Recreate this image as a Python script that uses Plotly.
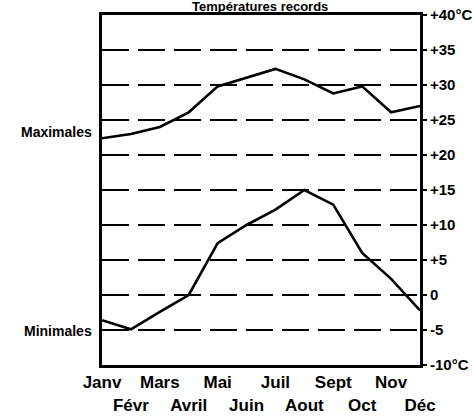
import plotly.graph_objects as go

months = ["Janv", "Févr", "Mars", "Avril", "Mai", "Juin",
          "Juil", "Aout", "Sept", "Oct", "Nov", "Déc"]
maximales = [22.4, 23.0, 24.0, 26.1, 29.8, 31.0, 32.3, 30.8, 28.8, 29.8, 26.1, 27.0]
minimales = [-3.6, -4.9, -2.4, 0.0, 7.4, 10.0, 12.2, 15.0, 12.9, 6.0, 2.3, -2.2]
ytick_vals = [40, 35, 30, 25, 20, 15, 10, 5, 0, -5, -10]
ytick_text = ["+40°C", "+35", "+30", "+25", "+20", "+15", "+10", "+5", "0", "-5", "-10°C"]
title_text = "Températures records"
series_labels = ["Maximales", "Minimales"]
label_levels = [23.3, -5.2]

x_idx = list(range(len(months)))
xtick_text = [m if i % 2 == 0 else "<br>" + m for i, m in enumerate(months)]

FONT = "Liberation Sans, Arial, sans-serif"

fig = go.Figure()
for vals in (maximales, minimales):
    fig.add_trace(go.Scatter(x=x_idx, y=vals, mode="lines",
                             line=dict(color="black", width=2.6),
                             showlegend=False, hoverinfo="skip"))

for lab, lvl in zip(series_labels, label_levels):
    fig.add_annotation(x=0, y=lvl, xref="x", yref="y",
                       text="<b>" + lab + "</b>", showarrow=False,
                       xanchor="right", xshift=-8,
                       font=dict(family=FONT, size=14, color="black"))

fig.add_annotation(x=0.497, y=1.0, xref="paper", yref="paper",
                   text="<b><u>" + title_text + "</u></b>", showarrow=False,
                   xanchor="center", yanchor="bottom", yshift=-1,
                   font=dict(family=FONT, size=13, color="black"))

fig.update_layout(
    width=474, height=419,
    margin=dict(l=102, r=54, t=15, b=54, autoexpand=False),
    paper_bgcolor="white", plot_bgcolor="white",
    font=dict(family=FONT, color="black"),
    xaxis=dict(range=[0, 11], tickvals=x_idx, ticktext=xtick_text,
               showgrid=False, zeroline=False, ticks="", automargin=False,
               showline=True, linewidth=3, linecolor="black", mirror=True,
               tickfont=dict(family=FONT, size=17, color="black", weight="bold"),
               tickangle=0),
    yaxis=dict(range=[-10, 40], side="right", tickvals=ytick_vals, ticktext=ytick_text,
               showgrid=True, gridcolor="black", gridwidth=2, griddash="27px,9px",
               zeroline=False, ticks="outside", ticklen=4, tickwidth=2, tickcolor="black",
               automargin=False,
               showline=True, linewidth=3, linecolor="black", mirror=True,
               tickfont=dict(family=FONT, size=15, color="black", weight="bold")),
)

fig.write_html("out.html", config={"displayModeBar": False},
               post_script="document.body.style.margin='0px';document.body.style.overflow='hidden';")
